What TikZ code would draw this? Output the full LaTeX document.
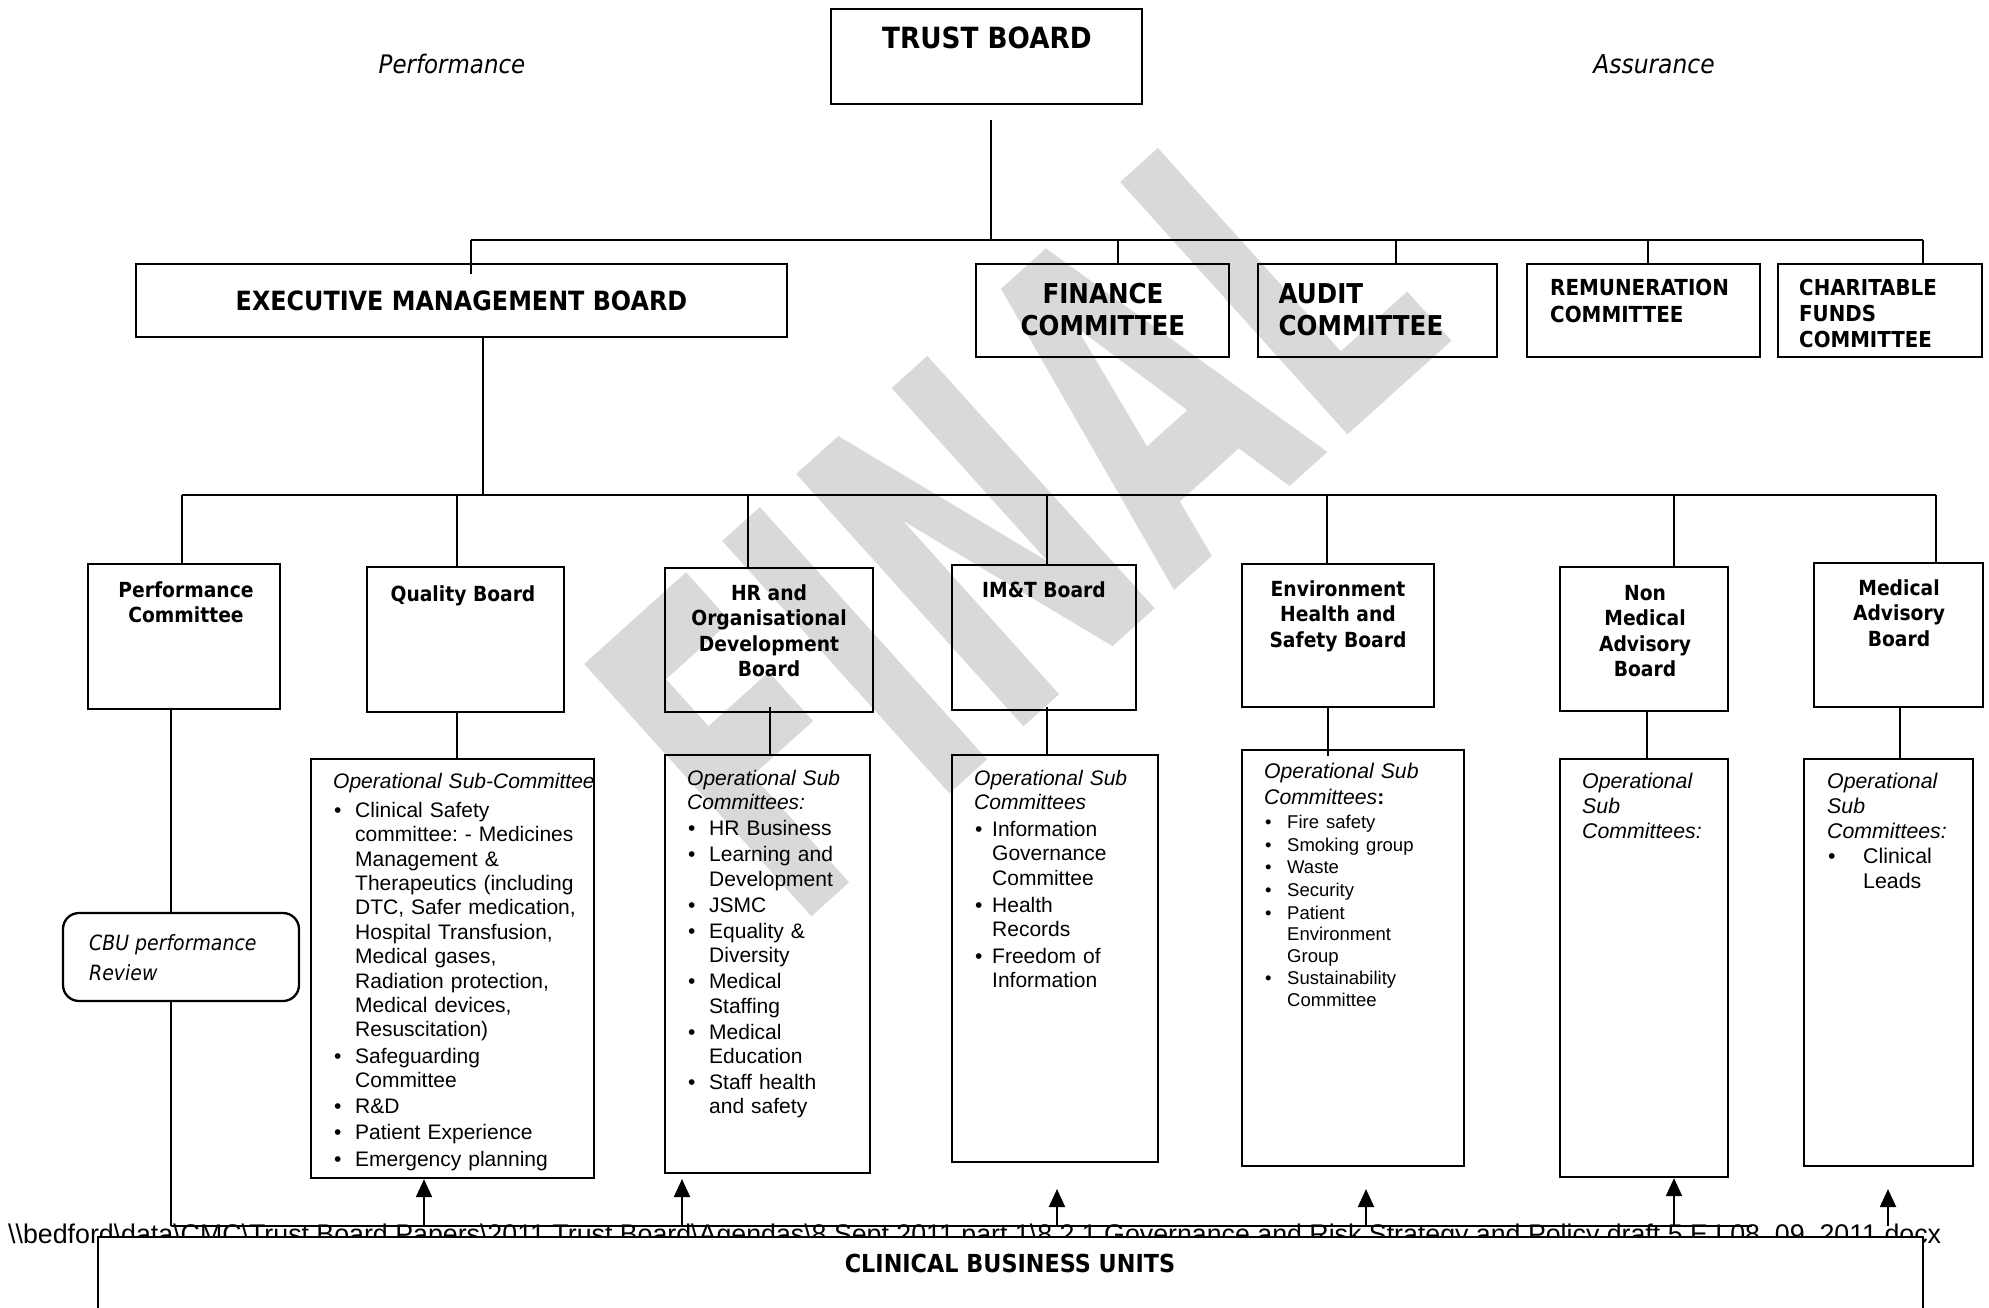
\documentclass[tikz,border=0pt]{standalone}
\usepackage{fontspec}
\usepackage{graphicx}
\setmainfont{Liberation Sans}
\newfontfamily\tah{DejaVu Sans}[FakeStretch=0.9]
\newfontfamily\wmfont{DejaVu Sans}
\usetikzlibrary{arrows.meta,calc}
\frenchspacing
\newcommand\bitem[2][22pt]{\par\hangindent=#1\relax\hangafter=1\noindent\makebox[#1][l]{\hspace{1pt}\textbullet}#2}
\newcommand\bsl{\textbackslash}
\newcommand\mkbox[6][]{\node[box,#1,minimum width={#5-#3},minimum height={#6-#4}] (#2) at ({(#3+#5)/2},{(#4+#6)/2}) {};}
\begin{document}
\begin{tikzpicture}[x=1pt,y=-1pt,
  box/.style={draw,line width=2.3pt,inner sep=0pt,rectangle},
  conn/.style={line width=1.8pt},
  arr/.style={line width=2pt,-{Triangle[width=16pt,length=18pt]}},
  hd/.style={inner sep=0pt,anchor=north,align=center,font=\tah\bfseries\fontsize{20.8}{25.5}\selectfont},
  lst/.style={inner sep=0pt,anchor=north west,text width=380pt,font=\fontsize{21}{24.4}\selectfont\frenchspacing},
]
\useasboundingbox (0,0) rectangle (1989,1307);
\fill[white] (0,0) rectangle (1989,1307);

% watermark
\node[rotate=42,inner sep=0pt,text=black!15,font=\wmfont\bfseries\fontsize{466}{466}\selectfont] (wm) at (1012,509) {\scalebox{0.58}[1]{FINAL}};

% side labels
\node[anchor=base,inner sep=0pt,font=\tah\itshape\fontsize{25.5}{30}\selectfont] (perflab) at (452,73) {Performance};
\node[anchor=base,inner sep=0pt,font=\tah\itshape\fontsize{26}{30}\selectfont] (asslab) at (1654,73) {Assurance};

% level 1 and 2 boxes
\mkbox{tb}{831}{9}{1142}{104}
\mkbox{emb}{136}{264}{787}{337}
\mkbox{fin}{976}{264}{1229}{357}
\mkbox{aud}{1258}{264}{1497}{357}
\mkbox{rem}{1527}{264}{1760}{357}
\mkbox{cha}{1778}{264}{1982}{357}

\node[anchor=base,inner sep=0pt,font=\tah\bfseries\fontsize{29.2}{34}\selectfont] (tbt) at (987,48) {TRUST BOARD};
\node[anchor=base,inner sep=0pt,font=\tah\bfseries\fontsize{26.5}{32}\selectfont] (embt) at (461.5,310) {EXECUTIVE MANAGEMENT BOARD};
\node[anchor=north,inner sep=0pt,align=center,font=\tah\bfseries\fontsize{27.3}{32}\selectfont] (fint) at (1103,283) {FINANCE\\COMMITTEE};
\node[anchor=north west,inner sep=0pt,align=left,font=\tah\bfseries\fontsize{27.3}{32}\selectfont] (audt) at (1278.5,283) {AUDIT\\COMMITTEE};
\node[anchor=north west,inner sep=0pt,align=left,font=\tah\bfseries\fontsize{22.1}{26.7}\selectfont] (remt) at (1550,279) {REMUNERATION\\COMMITTEE};
\node[anchor=north west,inner sep=0pt,align=left,font=\tah\bfseries\fontsize{22}{25.9}\selectfont] (chat) at (1799,279) {CHARITABLE\\FUNDS\\COMMITTEE};

% level 3 boxes
\mkbox{perf}{88}{564}{280}{709}
\mkbox{qb}{367}{567}{564}{712}
\mkbox{hr}{665}{568}{873}{712}
\mkbox{imt}{952}{565}{1136}{710}
\mkbox{env}{1242}{564}{1434}{707}
\mkbox{nmab}{1560}{567}{1728}{711}
\mkbox{mab}{1814}{563}{1983}{707}

\node[hd] (perft) at (186,581) {Performance\\Committee};
\node[hd] (qbt) at (463,585) {Quality Board};
\node[hd] (hrt) at (769,584) {HR and\\Organisational\\Development\\Board};
\node[hd] (imtt) at (1044,581.5) {IM\&T Board};
\node[hd] (envt) at (1338,580) {Environment\\Health and\\Safety Board};
\node[hd] (nmabt) at (1645,585) {Non\\Medical\\Advisory\\Board};
\node[hd] (mabt) at (1899,579) {Medical\\Advisory\\Board};

% sub-committee boxes
\mkbox{qsub}{311}{759}{594}{1178}
\mkbox{hrsub}{665}{755}{870}{1173}
\mkbox{imtsub}{952}{755}{1158}{1162}
\mkbox{envsub}{1242}{750}{1464}{1166}
\mkbox{nmsub}{1560}{759}{1728}{1177}
\mkbox{mabsub}{1804}{759}{1973}{1166}

\node[box,rounded corners=16pt,minimum width=236,minimum height=88] (cbur) at (181,957) {};
\node[anchor=north west,inner sep=0pt,align=left,font=\tah\itshape\fontsize{21}{30}\selectfont] (cburt) at (89,934) {CBU performance\\Review};

% sub-committee texts
\node[lst] (qsubt) at (333,773) {\setlength\parindent{0pt}\setlength\parskip{1.8pt}%
\noindent\textit{Operational Sub-Committee}\par\vspace{2.6pt}%
\bitem{Clinical Safety\newline committee: - Medicines\newline Management \&\newline Therapeutics (including\newline DTC, Safer medication,\newline Hospital Transfusion,\newline Medical gases,\newline Radiation protection,\newline Medical devices,\newline Resuscitation)}%
\bitem{Safeguarding\newline Committee}%
\bitem{R\&D}%
\bitem{Patient Experience}%
\bitem{Emergency planning}\par};

\node[lst] (hrsubt) at (687,770) {\setlength\parindent{0pt}\setlength\parskip{1.6pt}%
\noindent\textit{Operational Sub\newline Committees:}\par
\bitem{HR Business}%
\bitem{Learning and\newline Development}%
\bitem{JSMC}%
\bitem{Equality \&\newline Diversity}%
\bitem{Medical\newline Staffing}%
\bitem{Medical\newline Education}%
\bitem{Staff health\newline and safety}\par};

\node[lst] (imtsubt) at (974,770) {\setlength\parindent{0pt}\setlength\parskip{2.3pt}%
\noindent\textit{Operational Sub\newline Committees}\par
\bitem[18pt]{Information\newline Governance\newline Committee}%
\bitem[18pt]{Health\newline Records}%
\bitem[18pt]{Freedom of\newline Information}\par};

\node[lst,font=\fontsize{21.2}{26}\selectfont] (envsubt) at (1264,763) {\setlength\parindent{0pt}\setlength\parskip{1.2pt}%
\noindent\textit{Operational Sub\newline Committees}\textbf{:}\par
\fontsize{18.5}{21.5}\selectfont\vspace{1.2pt}%
\bitem[23pt]{Fire safety}%
\bitem[23pt]{Smoking group}%
\bitem[23pt]{Waste}%
\bitem[23pt]{Security}%
\bitem[23pt]{Patient\newline Environment\newline Group}%
\bitem[23pt]{Sustainability\newline Committee}\par};

\node[lst,font=\fontsize{21.3}{25}\selectfont] (nmsubt) at (1582,773) {\setlength\parindent{0pt}%
\noindent\textit{Operational\newline Sub\newline Committees:}\par};

\node[lst,font=\fontsize{21.3}{25}\selectfont] (mabsubt) at (1827,773) {\setlength\parindent{0pt}\setlength\parskip{0pt}%
\noindent\textit{Operational\newline Sub\newline Committees:}\par
\bitem[36pt]{Clinical\newline Leads}\par};

% connectors: level 1
\coordinate (tbl) at (991,120);
\coordinate (bus1) at (991,240);
\coordinate (busL) at (471,240);
\coordinate (busR) at (1923,240);
\coordinate (dfin) at (1118,240);
\coordinate (daud) at (1396,240);
\coordinate (drem) at (1648,240);
\draw[conn] (tbl) -- (bus1);
\draw[conn] (busL) -- (busR);
\draw[conn] (busL) -- ($(busL |- emb.north)+(0,11)$);
\draw[conn] (dfin) -- (dfin |- fin.north);
\draw[conn] (daud) -- (daud |- aud.north);
\draw[conn] (drem) -- (drem |- rem.north);
\draw[conn] (busR) -- (busR |- cha.north);

% connectors: level 2
\coordinate (e2) at (483,495);
\coordinate (b2L) at (182,495);
\coordinate (b2R) at (1936,495);
\coordinate (dq) at (457,495);
\coordinate (dhr) at (748,495);
\coordinate (dimt) at (1047,495);
\coordinate (denv) at (1327,495);
\coordinate (dnm) at (1674,495);
\draw[conn] (e2 |- emb.south) -- (e2);
\draw[conn] (b2L) -- (b2R);
\draw[conn] (b2L) -- (b2L |- perf.north);
\draw[conn] (dq) -- (dq |- qb.north);
\draw[conn] (dhr) -- (dhr |- hr.north);
\draw[conn] (dimt) -- (dimt |- imt.north);
\draw[conn] (denv) -- (denv |- env.north);
\draw[conn] (dnm) -- (dnm |- nmab.north);
\draw[conn] (b2R) -- (b2R |- mab.north);

% connectors: level 3 to sub-committees
\coordinate (pf) at (171,1226);
\coordinate (lineend) at (1752,1226);
\coordinate (hrl) at (770,707);
\coordinate (imtl) at (1047,707);
\coordinate (envl) at (1327.6,756);
\coordinate (nml) at (1647,711);
\coordinate (mabl) at (1900,707);
\draw[conn] (perf.south -| pf) -- (cbur.north -| pf);
\draw[conn] (cbur.south -| pf) -- (pf);
\draw[conn] (pf) -- (lineend);
\draw[conn] (qb.south -| dq) -- (qsub.north -| dq);
\draw[conn] (hrl) -- (hrl |- hrsub.north);
\draw[conn] (imtl) -- (imtl |- imtsub.north);
\draw[conn] (env.south -| envl) -- (envl);
\draw[conn] (nml |- nmab.south) -- (nml |- nmsub.north);
\draw[conn] (mabl |- mab.south) -- (mabl |- mabsub.north);

% arrows from clinical business units
\coordinate (a1) at (424,1226);
\coordinate (a2) at (682,1226);
\coordinate (a2t) at (682,1179);
\coordinate (a3) at (1057,1226);
\coordinate (a3t) at (1057,1189);
\coordinate (a4) at (1366,1226);
\coordinate (a4t) at (1366,1189);
\coordinate (a5) at (1674,1226);
\coordinate (a6) at (1888,1226);
\coordinate (a6t) at (1888,1189);
\draw[arr] (a1) -- (a1 |- qsub.south);
\draw[arr] (a2) -- (a2t);
\draw[arr] (a3) -- (a3t);
\draw[arr] (a4) -- (a4t);
\draw[arr] (a5) -- (a5 |- nmsub.south);
\draw[arr] (a6) -- (a6t);

% footer path
\node[anchor=base west,inner sep=0pt,font=\fontsize{27}{30}\selectfont] (path) at (8,1243) {\resizebox{1933pt}{\height}{\bsl\bsl bedford\bsl data\bsl CMC\bsl Trust Board Papers\bsl 2011 Trust Board\bsl Agendas\bsl 8 Sept 2011 part 1\bsl 8.2.1 Governance and Risk Strategy and Policy draft 5 E L08\_09\_2011.docx}};

% clinical business units
\node[box,fill=white,anchor=north west,minimum width=1825,minimum height=120] (cbu) at (97,1236) {};
\node[anchor=base,inner sep=0pt,font=\tah\bfseries\fontsize{24.8}{30}\selectfont] (cbut) at (1010,1272) {CLINICAL BUSINESS UNITS};
\end{tikzpicture}
\end{document}
